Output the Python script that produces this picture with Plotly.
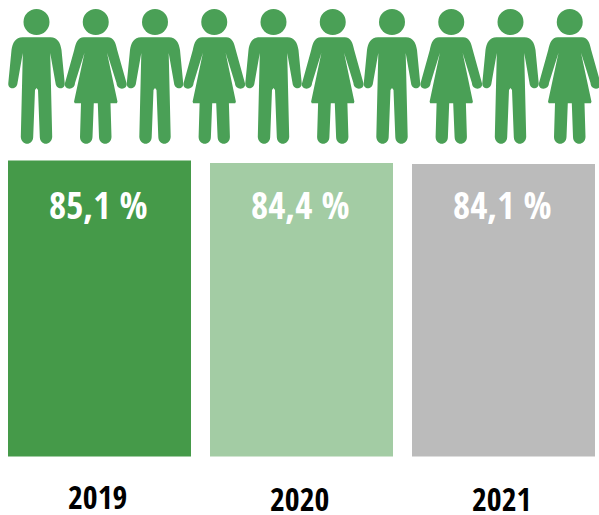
import plotly.graph_objects as go

years = ["2019", "2020", "2021"]
shares = [85.1, 84.4, 84.1]
bar_colors = ["#459a49", "#a3cca4", "#bbbbbb"]
people = ["m", "w", "m", "w", "m", "w", "m", "w", "m", "w"]

W, H = 599, 515
PX_PER_UNIT = 3.478
BASE_PX = 456.6
STEP = 202.0
CENTER0 = 99.5
GREEN = "#4aa056"

MAN = ("M{c} 37.3 L{a} 37.3 C{b} 37.3 {d} 43 {e} 50 L{f} 83 C{g} 90 {h} 90 {i} 83 "
       "L{j} 53 L{k} 137 C{l} 146 {m} 146 {n} 137 L{o} 90 L{c} 88 "
       "L{o2} 90 L{n2} 137 C{m2} 146 {l2} 146 {k2} 137 L{j2} 53 "
       "L{i2} 83 C{h2} 90 {g2} 90 {f2} 83 L{e2} 50 C{d2} 43 {b2} 37.3 {a2} 37.3 Z")


def man(c):
    r = lambda v: f"{c + v:.1f}"
    return MAN.format(c=r(0), a=r(14), b=r(21), d=r(24), e=r(25), f=r(28.2), g=r(29), h=r(19.5), i=r(19),
                      j=r(13.7), k=r(15.7), l=r(15), m=r(3.6), n=r(3.3), o=r(1.5),
                      a2=r(-14), b2=r(-21), d2=r(-24), e2=r(-25), f2=r(-28.2), g2=r(-29), h2=r(-19.5), i2=r(-19),
                      j2=r(-13.7), k2=r(-15.7), l2=r(-15), m2=r(-3.6), n2=r(-3.3), o2=r(-1.5))


def woman(c):
    half = [(12, 37.3), (21.5, 50), (30.7, 83), (20.7, 83), (11.3, 52.7), (21.7, 101.7), (21, 103.3), (14.7, 103.3),
            (15.7, 137), (3.3, 137), (2, 103.3)]
    p = lambda s, i: f"{c + s * half[i][0]:.1f} {half[i][1]}"
    path = f"M{c - 12:.1f} 37.3 L{p(1, 0)} C{c + 18:.1f} 37.3 {c + 20:.1f} 43 {p(1, 1)} L{p(1, 2)} "
    path += f"C{c + 32.5:.1f} 90 {c + 21:.1f} 91 {p(1, 3)} L{p(1, 4)} L{p(1, 5)} L{p(1, 6)} L{p(1, 7)} L{p(1, 8)} "
    path += f"C{c + 15.5:.1f} 146 {c + 3.5:.1f} 146 {p(1, 9)} L{p(1, 10)} L{p(-1, 10)} L{p(-1, 9)} "
    path += f"C{c - 3.5:.1f} 146 {c - 15.5:.1f} 146 {p(-1, 8)} L{p(-1, 7)} L{p(-1, 6)} L{p(-1, 5)} L{p(-1, 4)} L{p(-1, 3)} "
    path += f"C{c - 21:.1f} 91 {c - 32.5:.1f} 90 {p(-1, 2)} L{p(-1, 1)} C{c - 20:.1f} 43 {c - 18:.1f} 37.3 {c - 12:.1f} 37.3 Z"
    return path


fig = go.Figure(go.Bar(
    x=years, y=shares, marker=dict(color=bar_colors, line=dict(width=0)),
    hoverinfo="skip", xaxis="x", yaxis="y"))

fig.add_trace(go.Scatter(x=[0, W], y=[0, H], mode="markers", marker=dict(opacity=0, size=1),
                         hoverinfo="skip", xaxis="x2", yaxis="y2"))

shapes = []
for i, kind in enumerate(people):
    c = 36.5 + i * 59.25
    shapes.append(dict(type="circle", xref="x2", yref="y2", x0=c - 13, x1=c + 13, y0=9, y1=35,
                       fillcolor=GREEN, line=dict(width=0), layer="above"))
    shapes.append(dict(type="path", xref="x2", yref="y2", path=man(c) if kind == "m" else woman(c),
                       fillcolor=GREEN, line=dict(width=0), layer="above"))

FONT = "Open Sans Condensed, Roboto Condensed, Noto Sans Condensed, Open Sans"
annotations = []
year_y = [495.5, 497.5, 497.5]
for i, (yr, v) in enumerate(zip(years, shares)):
    annotations.append(dict(xref="x2", yref="y2", x=CENTER0 + (i * STEP) - 1, y=204, showarrow=False,
                            text="<b>" + f"{v:.1f}".replace(".", ",") + " %</b>",
                            font=dict(family=FONT, size=37, color="white")))
    annotations.append(dict(xref="x2", yref="y2", x=CENTER0 + (i * STEP) - 2, y=year_y[i], showarrow=False,
                            height=34, text=f"<b>{yr}</b>", font=dict(family=FONT, size=32, color="black")))

fig.update_layout(
    width=W, height=H, margin=dict(l=0, r=0, t=0, b=0, pad=0),
    paper_bgcolor="white", plot_bgcolor="white", showlegend=False, bargap=1 - 183 / STEP,
    xaxis=dict(type="category", domain=[0, 1], range=[-CENTER0 / STEP, (W - CENTER0) / STEP],
               visible=False, fixedrange=True),
    yaxis=dict(domain=[0, 1], range=[-(H - BASE_PX) / PX_PER_UNIT, BASE_PX / PX_PER_UNIT],
               visible=False, fixedrange=True),
    xaxis2=dict(domain=[0, 1], range=[0, W], visible=False, overlaying="x", anchor="y2", fixedrange=True),
    yaxis2=dict(domain=[0, 1], range=[H, 0], visible=False, overlaying="y", anchor="x2", fixedrange=True),
    shapes=shapes, annotations=annotations,
)

post = """
document.body.style.margin = '0';
document.body.style.overflow = 'hidden';
document.querySelectorAll('.annotation-text').forEach(function (t) {
  t.style.fontStretch = '75%';
});
"""
fig.write_html("out.html", config={"displayModeBar": False, "responsive": False}, post_script=post)
